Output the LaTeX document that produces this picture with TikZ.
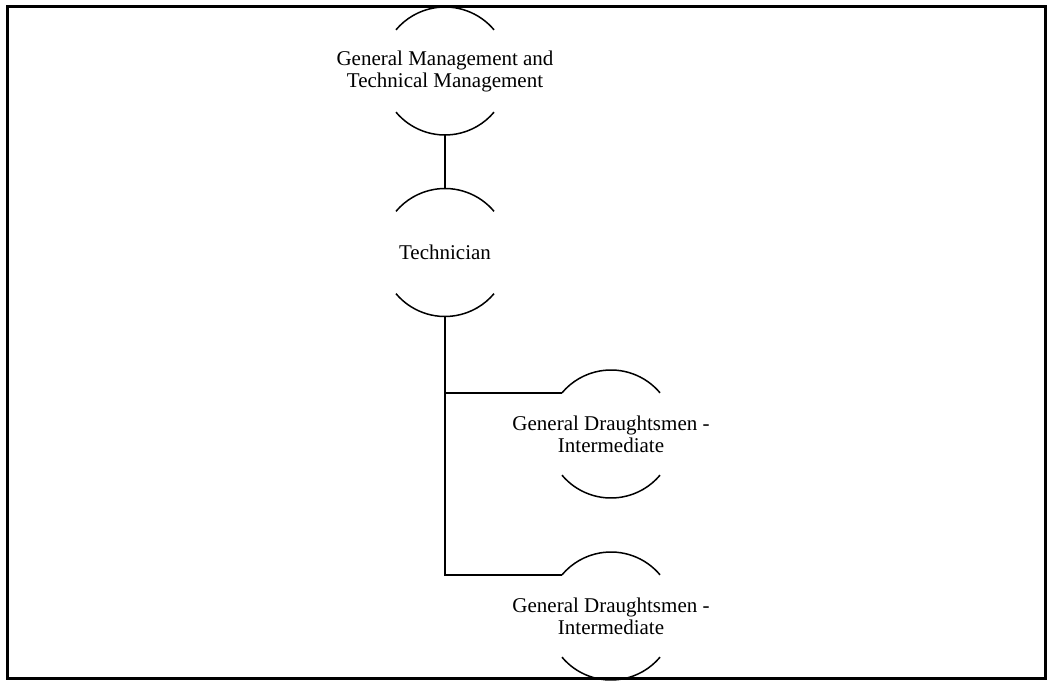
\documentclass[tikz,border=0pt]{standalone}
\usepackage{fontspec}
\setmainfont{Liberation Serif}

\tikzset{
  role/.style={align=center, inner sep=0pt, font=\fontsize{10.5}{11}\selectfont},
  ring/.style={line width=0.75pt},
}

\begin{document}
\begin{tikzpicture}[x=0.5pt, y=0.5pt]
    \useasboundingbox (0,0) rectangle (1047,680);
    % outer frame
    \draw[line width=1.5pt] (7,2) rectangle (1045,673);

    % roles, top to bottom
    \node[role] (gm)   at (445,609)   {General Management and\\Technical Management};
    \node[role] (tech) at (445,427.5) {Technician};
    \node[role] (dm1)  at (611,246)   {General Draughtsmen -\\Intermediate};
    \node[role] (dm2)  at (611,64)    {General Draughtsmen -\\Intermediate};

    % top and bottom arcs round each role
    \foreach \n in {gm,tech,dm1,dm2}{
      \draw[ring] ([shift={(40:64)}]\n.center) arc[start angle=40, end angle=140, radius=64];
      \draw[ring] ([shift={(220:64)}]\n.center) arc[start angle=220, end angle=320, radius=64];
      \coordinate (\n-top) at ([shift={(90:64)}]\n.center);
      \coordinate (\n-bot) at ([shift={(270:64)}]\n.center);
      \coordinate (\n-in)  at ([shift={(140:64)}]\n.center);
    }

    % reporting lines
    \draw[ring] (gm-bot) -- (tech-top);
    \draw[ring] (tech-bot) |- (dm2-in);
    \draw[ring] (tech-bot |- dm1-in) -- (dm1-in);
\end{tikzpicture}
\end{document}
